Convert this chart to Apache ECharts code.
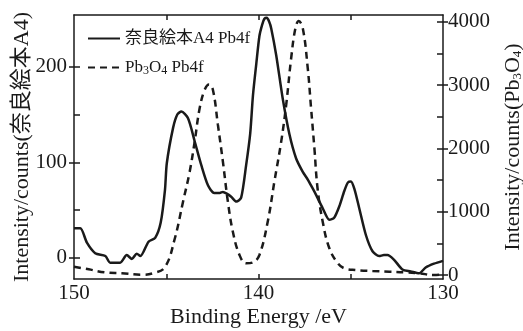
<!DOCTYPE html>
<html>
<head>
<meta charset="utf-8">
<script src="https://cdn.jsdelivr.net/npm/echarts@6/dist/echarts.min.js"></script>
<style>
  html, body { margin: 0; padding: 0; background: #fff; }
  #chart { width: 523px; height: 331px; }
</style>
</head>
<body>
<div id="chart"></div>
<script>
// 奈良絵本 A4 Pb4f (left axis, counts)
const a4Energy = [150.0, 149.66, 149.3, 148.85, 148.3, 148.04, 147.5, 147.14, 146.86, 146.6, 146.4, 145.96, 145.6, 145.3,
  145.07, 144.97, 144.63, 144.4, 144.18, 143.82, 143.46, 143.1, 142.74, 142.4, 142.1, 141.93, 141.7, 141.48, 141.2,
  140.94, 140.67, 140.45, 140.3, 140.12, 139.95, 139.8, 139.68, 139.55, 139.42, 139.31, 139.04, 138.69, 138.32, 137.96,
  137.6, 137.33, 137.1, 136.88, 136.52, 136.16, 135.9, 135.62, 135.35, 135.15, 134.99, 134.8, 134.54, 134.18, 133.82,
  133.46, 133.2, 133.01, 132.65, 132.2, 131.75, 131.3, 130.94, 130.49, 130.0];
const a4Counts = [31, 31, 16, 5, 2, -5, -5, 3, -1, 4.5, 2, 17, 21, 37,
  71, 99, 136, 150, 153, 146, 122, 97, 76, 68, 68, 69, 67, 64, 59,
  63, 97, 130, 170, 203, 232, 244, 250, 251, 247, 240, 212, 167, 129, 104,
  90, 82, 74, 66, 52, 40, 42, 54, 70, 79, 80, 72, 52, 24, 7,
  2, 3, 3, -2, -12, -14, -16, -10, -6, -3];

// Pb3O4 Pb4f (right axis, counts)
const pbEnergy = [150.0, 149.2, 148.3, 147.4, 146.3, 145.7, 145.07, 144.55, 144.09, 143.73, 143.46, 143.19, 142.92, 142.68,
  142.47, 142.2, 141.93, 141.66, 141.39, 141.03, 140.67, 140.3, 139.95, 139.5, 139.14, 138.77, 138.5, 138.23, 138.0,
  137.82, 137.6, 137.33, 137.15, 136.97, 136.8, 136.52, 136.16, 135.7, 135.35, 134.72, 133.82, 132.9, 132.0, 131.3,
  130.5, 130.0];
const pbCounts = [131, 90, 40, 27, 5, 30, 125, 560, 1158, 1632, 2106, 2633, 2923, 3010,
  2923, 2370, 1790, 1158, 684, 316, 185, 200, 316, 842, 1474, 2106, 2686, 3423, 3897,
  4010, 3897, 3265, 2633, 2002, 1370, 842, 422, 185, 106, 79, 63, 52, 42, 27,
  0, 10];

const xLabels = [150, 140, 130];
const xTicks = [145, 140, 135];
const leftLabels = [0, 100, 200];
const leftTicks = [0, 50, 100, 150, 200];
const rightLabels = [0, 1000, 2000, 3000, 4000];
const rightTicks = [0, 500, 1000, 1500, 2000, 2500, 3000, 3500, 4000];

const ink = '#1a1a1a';
const serif = "'Liberation Serif', 'Noto Sans CJK JP', serif";
const leftMin = -22, leftMax = 254;
const rightMin = -63, rightMax = 4106;

const chart = echarts.init(document.getElementById('chart'));

const frameAxis = {
  axisLine: { show: true, onZero: false, lineStyle: { color: ink, width: 1.5 } },
  splitLine: { show: false },
};
const subRich = { s: { fontSize: 13, fontFamily: serif, color: ink, verticalAlign: 'bottom', padding: [8, 0, 0, 0] } };
const legendRich = { s: { fontSize: 12, fontFamily: serif, color: ink, verticalAlign: 'bottom', padding: [7, 0, 0, 0] } };
const plain = (v) => String(v);

chart.setOption({
  animation: false,
  grid: { left: 74, right: 80, top: 15, bottom: 52, outerBoundsMode: 'none' },
  legend: {
    orient: 'vertical',
    left: 82,
    top: 25,
    itemWidth: 32,
    itemHeight: 14,
    itemGap: 12,
    itemStyle: { color: 'transparent', borderColor: 'transparent', borderWidth: 0 },
    textStyle: { fontSize: 17, fontFamily: serif, color: ink, rich: legendRich },
    formatter: (name) => name === 'pb' ? 'Pb{s|3}O{s|4} Pb4f' : '奈良絵本A4 Pb4f',
    data: ['a4', 'pb'],
  },
  xAxis: [
    {
      ...frameAxis,
      type: 'value', min: 130, max: 150, inverse: true, position: 'bottom',
      axisTick: { inside: true, length: 5, customValues: xTicks, lineStyle: { color: ink, width: 1.5 } },
      axisLabel: { customValues: xLabels, fontSize: 21, fontFamily: serif, color: ink, margin: 4, formatter: plain },
      name: 'Binding Energy /eV', nameLocation: 'middle', nameGap: 27, nameMoveOverlap: false,
      nameTextStyle: { fontSize: 22, fontFamily: serif, color: ink },
    },
    {
      ...frameAxis,
      type: 'value', min: 130, max: 150, inverse: true, position: 'top',
      axisTick: { inside: true, length: 5, customValues: xTicks, lineStyle: { color: ink, width: 1.5 } },
      axisLabel: { show: false },
    },
  ],
  yAxis: [
    {
      ...frameAxis,
      type: 'value', min: leftMin, max: leftMax, position: 'left',
      axisTick: { inside: true, length: 6, customValues: leftTicks, lineStyle: { color: ink, width: 1.5 } },
      axisLabel: { show: false },
    },
    {
      ...frameAxis,
      type: 'value', min: rightMin, max: rightMax, position: 'right',
      axisTick: { inside: true, length: 6, customValues: rightTicks, lineStyle: { color: ink, width: 1.5 } },
      axisLabel: { show: false },
    },
    {
      type: 'value', min: leftMin, max: leftMax, position: 'left',
      axisLine: { show: false }, splitLine: { show: false },
      axisTick: { inside: false, length: 5, customValues: leftLabels, lineStyle: { color: ink, width: 1.5 } },
      axisLabel: { customValues: leftLabels, fontSize: 21, fontFamily: serif, color: ink, margin: 7, formatter: plain },
      name: 'Intensity/counts(奈良絵本A4)', nameLocation: 'middle', nameGap: 41, nameRotate: 90,
      nameMoveOverlap: false,
      nameTextStyle: { fontSize: 22, fontFamily: serif, color: ink },
    },
    {
      type: 'value', min: rightMin, max: rightMax, position: 'right',
      axisLine: { show: false }, splitLine: { show: false },
      axisTick: { inside: false, length: 5, customValues: rightLabels, lineStyle: { color: ink, width: 1.5 } },
      axisLabel: { customValues: rightLabels, fontSize: 21, fontFamily: serif, color: ink, margin: 5, formatter: plain },
      name: 'Intensity/counts(Pb{s|3}O{s|4})', nameLocation: 'middle', nameGap: 59, nameRotate: 90,
      nameMoveOverlap: false,
      nameTextStyle: { fontSize: 22, fontFamily: serif, color: ink, rich: subRich },
    },
  ],
  series: [
    {
      name: 'a4', type: 'line', xAxisIndex: 0, yAxisIndex: 0,
      symbol: 'none', smooth: 0.25,
      lineStyle: { color: ink, width: 2.5 },
      itemStyle: { color: ink },
      data: a4Energy.map((e, i) => [e, a4Counts[i]]),
    },
    {
      name: 'pb', type: 'line', xAxisIndex: 0, yAxisIndex: 1,
      symbol: 'none', smooth: 0.4,
      lineStyle: { color: ink, width: 2.5, type: [7, 5] },
      itemStyle: { color: ink },
      data: pbEnergy.map((e, i) => [e, pbCounts[i]]),
    },
  ],
});
</script>
</body>
</html>
